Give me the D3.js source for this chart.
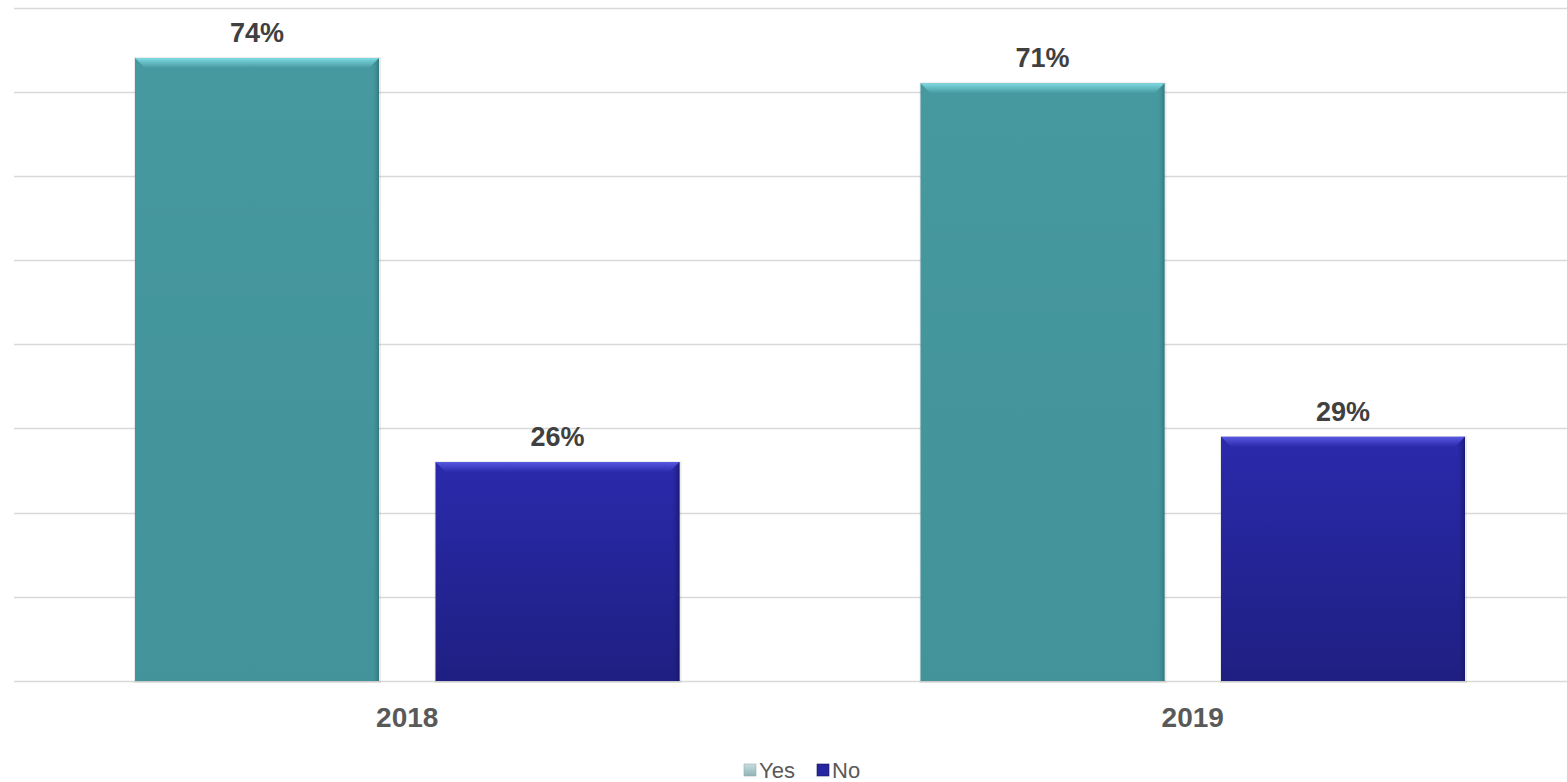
<!DOCTYPE html>
<html><head><meta charset="utf-8">
<script src="https://cdn.jsdelivr.net/npm/d3@7"></script>
<style>body{margin:0;background:#fff}svg{display:block}</style>
</head><body>
<script>
const categories = ["2018", "2019"];
const seriesNames = ["Yes", "No"];
const yesValues = [0.74, 0.71];
const noValues = [0.26, 0.29];
const yTicks = [0, 0.1, 0.2, 0.3, 0.4, 0.5, 0.6, 0.7, 0.8];

const W = 1567, H = 782;
const svg = d3.select("body").append("svg").attr("width", W).attr("height", H);
const font = "'Liberation Sans', Arial, sans-serif";

const data = categories.map((c, i) => ({cat: c, Yes: yesValues[i], No: noValues[i]}));

const x0 = d3.scaleBand().domain(categories).range([14.5, 1585.5]);
const x1 = d3.scaleBand().domain(seriesNames).range([0, x0.bandwidth()]).paddingInner(0.188).paddingOuter(0.401);
const y = d3.scaleLinear().domain([0, 0.8]).range([681, 7.5]);

const defs = svg.append("defs");
const palette = {
  Yes: {top: "#46999f", bot: "#42939a", hi: "#86e2ea", dark: "#2c6a70"},
  No: {top: "#2a2aac", bot: "#1f1f82", hi: "#5c5ce6", dark: "#14145c"}
};
seriesNames.forEach(s => {
  const g = defs.append("linearGradient").attr("id", "g" + s).attr("x1", 0).attr("y1", 0).attr("x2", 0).attr("y2", 1);
  g.append("stop").attr("offset", "0%").attr("stop-color", palette[s].top);
  g.append("stop").attr("offset", "100%").attr("stop-color", palette[s].bot);
  const hr = defs.append("linearGradient").attr("id", "r" + s).attr("x1", 0).attr("y1", 0).attr("x2", 1).attr("y2", 0);
  hr.append("stop").attr("offset", "0%").attr("stop-color", palette[s].bot).attr("stop-opacity", 0);
  hr.append("stop").attr("offset", "100%").attr("stop-color", palette[s].dark);
  const ht = defs.append("linearGradient").attr("id", "t" + s).attr("x1", 0).attr("y1", 0).attr("x2", 0).attr("y2", 1);
  ht.append("stop").attr("offset", "0%").attr("stop-color", palette[s].hi);
  ht.append("stop").attr("offset", "100%").attr("stop-color", palette[s].top);
});
const lg = defs.append("linearGradient").attr("id", "legYes").attr("x1", 0).attr("y1", 0).attr("x2", 0).attr("y2", 1);
lg.append("stop").attr("offset", "0%").attr("stop-color", "#c8dede");
lg.append("stop").attr("offset", "100%").attr("stop-color", "#8fb3b4");

// gridlines
svg.append("g").selectAll("line").data(yTicks).join("line")
  .attr("x1", 14).attr("x2", W)
  .attr("y1", d => Math.round(y(d)) + 0.5).attr("y2", d => Math.round(y(d)) + 0.5)
  .attr("stroke", "#d9d9d9").attr("stroke-width", 1.5);

const groups = svg.append("g").selectAll("g").data(data).join("g")
  .attr("transform", d => `translate(${x0(d.cat)},0)`);

const bars = groups.selectAll("g.bar").data(d => seriesNames.map(s => ({s, v: d[s]}))).join("g").attr("class", "bar");

// shadow
bars.append("rect")
  .attr("x", d => x1(d.s) - 1).attr("y", d => y(d.v) - 1)
  .attr("width", x1.bandwidth() + 3).attr("height", d => y(0) - y(d.v) + 3)
  .attr("fill", "#000").attr("opacity", 0.08);
bars.append("rect")
  .attr("x", d => x1(d.s)).attr("y", d => y(d.v))
  .attr("width", x1.bandwidth()).attr("height", d => y(0) - y(d.v))
  .attr("fill", d => `url(#g${d.s})`);
// right darker edge
bars.append("rect")
  .attr("x", d => x1(d.s) + x1.bandwidth() - 7).attr("y", d => y(d.v))
  .attr("width", 7).attr("height", d => y(0) - y(d.v))
  .attr("fill", d => `url(#r${d.s})`).attr("opacity", 0.7);
// top bevel
bars.append("path")
  .attr("d", d => {
    const x = x1(d.s), w = x1.bandwidth(), t = y(d.v);
    return `M${x},${t}H${x + w}L${x + w - 10},${t + 10}H${x + 10}Z`;
  })
  .attr("fill", d => `url(#t${d.s})`).attr("opacity", 0.9);

// value labels
bars.append("text")
  .attr("x", d => x1(d.s) + x1.bandwidth() / 2)
  .attr("y", d => y(d.v) - 16)
  .attr("text-anchor", "middle")
  .attr("font-family", font).attr("font-weight", "bold").attr("font-size", 27)
  .attr("fill", "#404040")
  .text(d => Math.round(d.v * 100) + "%");

// category axis labels
svg.append("g").selectAll("text").data(categories).join("text")
  .attr("x", d => x0(d) + x0.bandwidth() / 2)
  .attr("y", 727)
  .attr("text-anchor", "middle")
  .attr("font-family", font).attr("font-weight", "bold").attr("font-size", 28)
  .attr("fill", "#595959")
  .text(d => d);

// legend
const legend = svg.append("g");
const legItems = [{s: "Yes", x: 744, fill: "url(#legYes)"}, {s: "No", x: 817, fill: "#2626a0"}];
legItems.forEach(it => {
  legend.append("rect").attr("x", it.x).attr("y", 764).attr("width", 12).attr("height", 12)
    .attr("fill", it.fill).attr("stroke", it.s === "Yes" ? "#9ab" : "#15155a").attr("stroke-width", 0.6);
  legend.append("text").attr("x", it.x + 15).attr("y", 778)
    .attr("font-family", font).attr("font-size", 22).attr("fill", "#595959").text(it.s);
});
</script>
</body></html>
